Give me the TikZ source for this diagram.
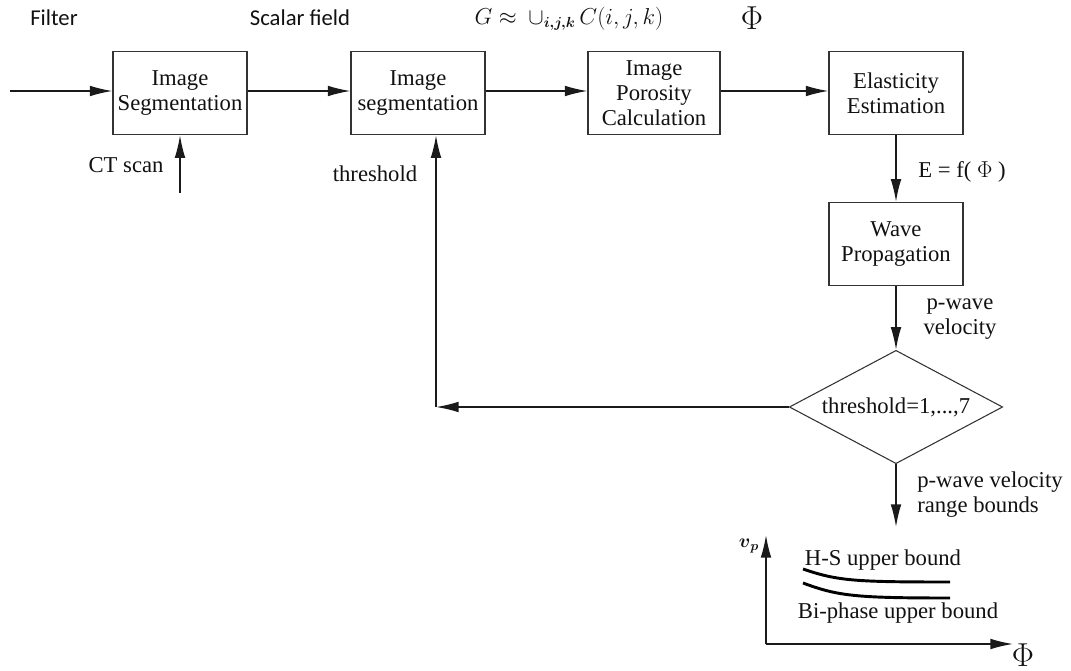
\documentclass[tikz,border=0pt]{standalone}
\usepackage{amsmath}
\usepackage{fontspec}
\usepackage{tikz}
\usetikzlibrary{arrows.meta,shapes.geometric}
\setmainfont{Liberation Serif}
\newfontfamily\labelfont{Carlito}
\definecolor{flLine}{HTML}{1A1A1A}
\definecolor{flBox}{HTML}{333333}
\definecolor{flText}{HTML}{111111}
\tikzset{
  block/.style={draw=flBox,line width=0.8pt,minimum width=100.5pt,minimum height=62.5pt,
    align=center,inner sep=0pt,font=\fontsize{17}{18.75}\selectfont,text=flText},
  decision/.style={draw=flBox,line width=0.8pt,shape=diamond,aspect=1.9,inner sep=0pt,
    minimum width=160pt,minimum height=85pt,font=\fontsize{17}{18.75}\selectfont,text=flText},
  flow/.style={draw=flLine,line width=1.1pt,-{Latex[length=17pt,width=8pt]}},
  lbl/.style={font=\fontsize{17}{18.75}\selectfont,text=flText,inner sep=0pt},
  toplbl/.style={font=\labelfont\fontsize{17}{20}\selectfont,text=flText,inner sep=0pt},
  bound/.style={draw=black,line width=2.2pt},
}
\begin{document}
\begin{tikzpicture}[x=0.75pt,y=-0.75pt]
  \useasboundingbox (0,0) rectangle (1071,671);
  % ligne du haut
  \node[toplbl] (filter) at (54,18) {Filter};
  \node[toplbl] (scalar) at (300,18) {Scalar field};
  \node[lbl,font=\fontsize{16}{18}\selectfont] (union) at (569,19) {$G\approx\ \mathop{\cup}\nolimits_{\boldsymbol{i,j,k}}C(i,j,k)$};
  \node[lbl,font=\fontsize{23}{26}\selectfont] (phitop) at (752,18) {$\Phi$};
  % blocs
  \node[block] (seg1) at (180,93) {Image\\Segmentation};
  \node[block] (seg2) at (418,93) {Image\\segmentation};
  \node[block,minimum width=99pt] (poro) at (654,93) {Image\\Porosity\\Calculation};
  \node[block] (elas) at (896,93) {Elasticity\\Estimation};
  \node[block] (wave) at (896,244) {Wave\\Propagation};
  \node[decision] (thr) at (896,407) {threshold=1,...,7};
  % libelles
  \node[lbl] (ctscan) at (126,165) {CT scan};
  \node[lbl] (thrlbl) at (375,174) {threshold};
  \node[lbl] (efphi) at (962,172) {E = f( $\Phi$ )};
  \node[lbl,align=center] (pwave) at (960,319) {p-wave\\velocity};
  \node[lbl,align=left,anchor=west] (range) at (917,495) {p-wave velocity\\range bounds};
  % fleches
  \coordinate (src) at (10,91);
  \coordinate (ct) at (180,193);
  \coordinate (corner) at (436,407);
  \coordinate (outb) at (896,527);
  \draw[flow] (src) -- (src -| seg1.west);
  \draw[flow] (ct) -- (seg1);
  \draw[flow] (seg1.east |- src) -- (seg2.west |- src);
  \draw[flow] (seg2.east |- src) -- (poro.west |- src);
  \draw[flow] (poro.east |- src) -- (elas.west |- src);
  \draw[flow] (elas) -- (wave);
  \draw[flow] (wave) -- (thr);
  \draw[flow] (thr.west) -- (corner);
  \draw[flow] (corner) -- (corner |- seg2.south);
  \draw[flow] (thr) -- (outb);
  % graphe des bornes
  \coordinate (orig) at (766,644);
  \coordinate (ytip) at (766,535);
  \coordinate (xtip) at (1013,644);
  \draw[flow] (orig) -- (ytip);
  \draw[flow] (orig) -- (xtip);
  \node[lbl,font=\fontsize{14}{16}\selectfont] (vp) at (749,546) {$\boldsymbol{v}_{\boldsymbol{p}}$};
  \node[lbl,font=\fontsize{23}{26}\selectfont] (phiax) at (1023,655) {$\Phi$};
  \draw[bound] (803,569) .. controls (838,581) and (855,582) .. (950,582);
  \draw[bound] (803,583) .. controls (838,596) and (855,598) .. (950,598);
  \node[lbl] (hs) at (883,560) {H-S upper bound};
  \node[lbl] (bi) at (898,613) {Bi-phase upper bound};
\end{tikzpicture}
\end{document}
